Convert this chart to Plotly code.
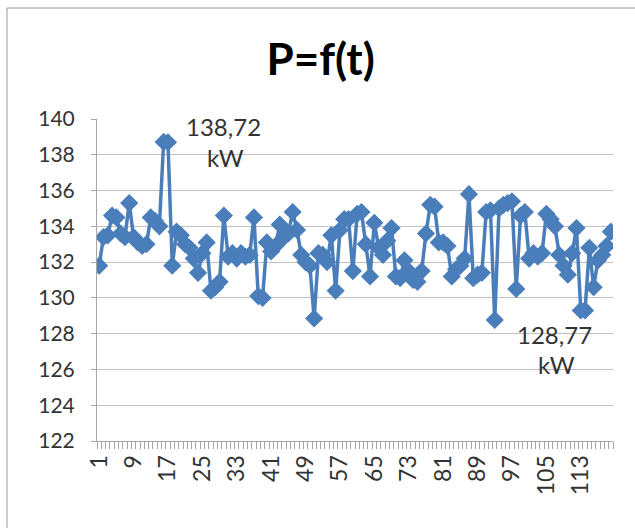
import plotly.graph_objects as go

# Measured power per time step (kW)
t = list(range(1, 121))
power_kw = [
    131.8, 133.4, 133.5, 134.6, 134.5, 133.6, 133.4, 135.3, 133.4, 133.1,
    132.9, 133.0, 134.5, 134.3, 134.0, 138.72, 138.7, 131.8, 133.7, 133.5,
    133.0, 132.8, 132.2, 131.4, 132.5, 133.1, 130.4, 130.6, 130.9, 134.6,
    132.3, 132.5, 132.2, 132.5, 132.3, 132.4, 134.5, 130.1, 130.0, 133.1,
    132.6, 132.9, 134.1, 133.4, 133.6, 134.8, 133.8, 132.4, 132.0, 131.8,
    128.85, 132.5, 132.4, 132.0, 133.5, 130.4, 133.8, 134.4, 134.4, 131.5,
    134.7, 134.8, 133.0, 131.2, 134.2, 132.8, 132.4, 133.2, 133.9, 131.2,
    131.1, 132.1, 131.5, 131.0, 130.9, 131.5, 133.6, 135.2, 135.1, 133.1,
    133.1, 132.9, 131.2, 131.6, 131.8, 132.2, 135.8, 131.1, 131.3, 131.4,
    134.8, 134.9, 128.77, 135.0, 135.2, 135.3, 135.4, 130.5, 134.6, 134.8,
    132.2, 132.5, 132.3, 132.5, 134.7, 134.4, 134.0, 132.4, 131.8, 131.3,
    132.5, 133.9, 129.3, 129.3, 132.8, 130.6, 132.1, 132.4, 132.9, 133.7,
]
x_tick_vals = list(range(1, 121, 8))
x_tick_text = [str(v) for v in x_tick_vals]
y_tick_vals = list(range(122, 141, 2))

FONT = "Lato"
BLUE = "#4A7EBB"
GRID = "#C0C0C0"
TEXT = "#333333"

fig = go.Figure()
fig.add_trace(go.Scatter(
    x=t, y=power_kw, mode="lines+markers",
    line=dict(color=BLUE, width=3.5),
    marker=dict(symbol="diamond", size=14, color=BLUE),
    hoverinfo="x+y", showlegend=False,
))

# Value labels at the maximum and minimum
i_max = power_kw.index(max(power_kw))
i_min = power_kw.index(min(power_kw))


def fmt(v):
    return f"{v:.2f}".replace(".", ",")


annots = []
for idx, dx, dy1, dy2 in [(i_max, 60, 15, -16), (i_min, 60, -15, -45)]:
    v = power_kw[idx]
    annots.append(dict(x=t[idx], y=v, xref="x", yref="y", text=fmt(v),
                       showarrow=False, xshift=dx, yshift=dy1,
                       font=dict(family=FONT, size=24, color=TEXT)))
    annots.append(dict(x=t[idx], y=v, xref="x", yref="y", text="kW",
                       showarrow=False, xshift=dx + 2, yshift=dy2,
                       font=dict(family=FONT, size=24, color=TEXT)))

fig.update_layout(
    width=635, height=528,
    margin=dict(l=97, r=22, t=119, b=87),
    paper_bgcolor="white", plot_bgcolor="white",
    title=dict(text="<b>P=f(t)</b>", x=0.505, xanchor="center",
               y=0.888, yanchor="middle",
               font=dict(family=FONT, size=44, color="black")),
    annotations=annots,
    xaxis=dict(
        range=[0.5, 120.5], tickmode="array", tickvals=x_tick_vals,
        ticktext=x_tick_text, tickangle=-90, ticks="", showgrid=False,
        zeroline=False, showline=True, linecolor="#A6A6A6", linewidth=1,
        ticklabelstandoff=4,
        tickfont=dict(family=FONT, size=23, color=TEXT),
        minor=dict(tickmode="array", tickvals=[k + 0.5 for k in range(121)],
                   ticks="outside", ticklen=7, tickcolor="#A6A6A6",
                   showgrid=False),
    ),
    yaxis=dict(
        range=[122, 140], tickmode="array", tickvals=y_tick_vals,
        ticks="outside", ticklen=5, tickcolor="#A6A6A6",
        showgrid=True, gridcolor=GRID, gridwidth=1, zeroline=False,
        showline=True, linecolor="#A6A6A6", linewidth=1,
        ticklabelstandoff=12,
        tickfont=dict(family=FONT, size=21, color=TEXT),
    ),
    shapes=[dict(type="rect", xref="paper", yref="paper",
                 x0=-0.1744, x1=1.06, y0=-0.30, y1=1.3447,
                 line=dict(color="#9A9A9A", width=1), layer="below")],
)

fig.write_html("out.html")
